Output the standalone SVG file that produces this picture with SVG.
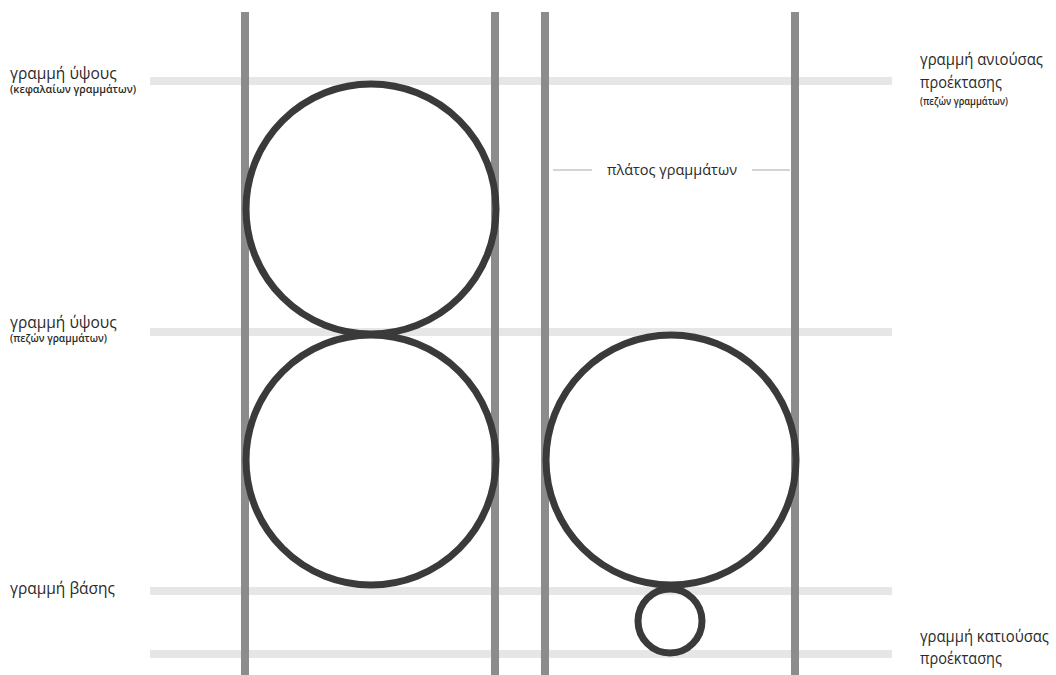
<svg xmlns="http://www.w3.org/2000/svg" width="1056" height="675" viewBox="0 0 1056 675">
<style>
.h{stroke:#e6e6e6;stroke-width:8;fill:none}
.v{stroke:#8c8c8c;stroke-width:8;fill:none}
.c{stroke:#3a3a3a;stroke-width:7;fill:none}
.t{font-family:"Open Sans","Liberation Sans",sans-serif;font-size:15.5px;fill:#2a2a2a}
.w{font-family:"Open Sans","Liberation Sans",sans-serif;font-size:14.5px;fill:#2a2a2a}
.s{font-family:"Open Sans","Liberation Sans",sans-serif;font-size:10px;font-weight:600;fill:#2a2a2a}
.m{stroke:#aaa;stroke-width:1.2}
</style>
<rect width="1056" height="675" fill="#fff"/>
<g id="guides">
<line class="h" x1="150" y1="81" x2="892" y2="81"/>
<line class="h" x1="150" y1="332" x2="892" y2="332"/>
<line class="h" x1="150" y1="591" x2="892" y2="591"/>
<line class="h" x1="150" y1="654" x2="892" y2="654"/>
<line class="v" x1="245" y1="12" x2="245" y2="675"/>
<line class="v" x1="495" y1="12" x2="495" y2="675"/>
<line class="v" x1="545" y1="12" x2="545" y2="675"/>
<line class="v" x1="795" y1="12" x2="795" y2="675"/>
</g>
<g id="circles">
<circle class="c" cx="371" cy="209" r="125"/>
<circle class="c" cx="371" cy="460" r="125"/>
<circle class="c" cx="671" cy="460" r="125"/>
<circle class="c" cx="670" cy="621" r="32"/>
</g>
<g id="width-label">
<line class="m" x1="553" y1="170" x2="592" y2="170"/>
<line class="m" x1="752" y1="170" x2="790" y2="170"/>
<text class="w" x="672" y="175" text-anchor="middle">πλάτος γραμμάτων</text>
</g>
<g id="labels-left">
<text class="t" x="10" y="79">γραμμή ύψους</text>
<text class="s" x="10" y="93" textLength="126" lengthAdjust="spacingAndGlyphs">(κεφαλαίων γραμμάτων)</text>
<text class="t" x="10" y="328">γραμμή ύψους</text>
<text class="s" x="10" y="342" textLength="97" lengthAdjust="spacingAndGlyphs">(πεζών γραμμάτων)</text>
<text class="t" x="10" y="594">γραμμή βάσης</text>
</g>
<g id="labels-right">
<text class="t" x="920" y="65" textLength="123" lengthAdjust="spacingAndGlyphs">γραμμή ανιούσας</text>
<text class="t" x="920" y="88" textLength="82" lengthAdjust="spacingAndGlyphs">προέκτασης</text>
<text class="s" x="920" y="105" textLength="88" lengthAdjust="spacingAndGlyphs">(πεζών γραμμάτων)</text>
<text class="t" x="920" y="642" textLength="129" lengthAdjust="spacingAndGlyphs">γραμμή κατιούσας</text>
<text class="t" x="920" y="664" textLength="82" lengthAdjust="spacingAndGlyphs">προέκτασης</text>
</g>
</svg>
